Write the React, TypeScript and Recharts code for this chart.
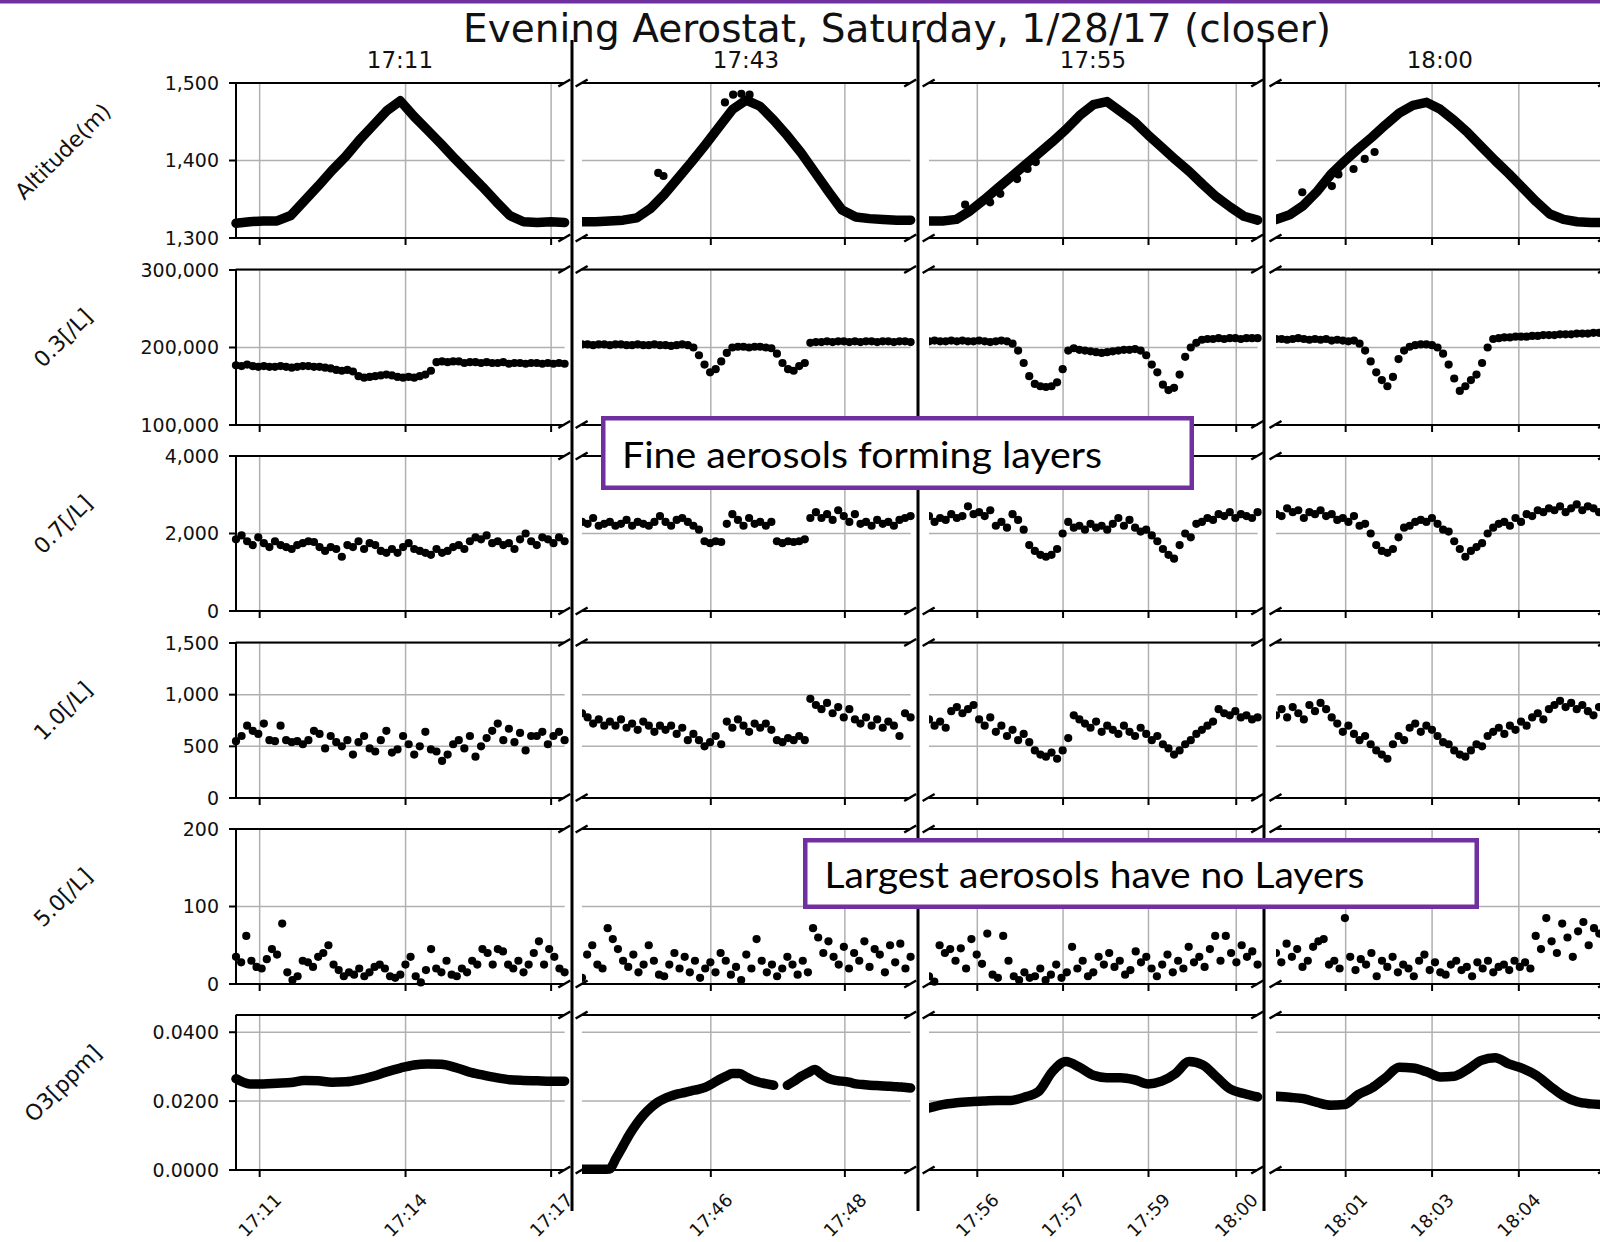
import { ComposedChart, Line, Scatter, XAxis, YAxis, ReferenceLine } from 'recharts'

// ---- layout (px) ----
const COL_X = [235.7, 581.6, 928.6, 1275.5]
const ROW_Y = [83, 269.5, 456, 642.5, 829, 1015]
const PW = 328.6
const PH = 155
const DIVIDER_X = [572, 918, 1264]
const GRID = '#b0b0b0'
const PURPLE = '#7030a0'
const FONT = 'DejaVu Sans'

// ---- axis text ----
const columnTitles = ['17:11', '17:43', '17:55', '18:00']
// tick positions as % of each window's width, with their clock labels
const tickPos = [[7.2, 51.6, 95.9], [39.2, 80], [14.7, 40.8, 66.8, 93.5], [21.2, 47.5, 73.9]]
const tickLabels = [
  ['17:11', '17:14', '17:17'],
  ['17:46', '17:48'],
  ['17:56', '17:57', '17:59', '18:00'],
  ['18:01', '18:03', '18:04'],
]

// ---- altitude (m) ----
const alt1711 = [1319, 1321, 1322, 1322, 1329, 1348, 1367, 1387, 1405, 1426, 1445, 1464, 1477, 1457, 1439, 1421, 1402, 1384, 1366, 1347, 1329, 1321, 1320, 1321, 1320]
const alt1743 = [1321, 1321, 1322, 1323, 1326, 1338, 1356, 1377, 1398, 1420, 1443, 1466, 1478, 1470, 1452, 1432, 1410, 1385, 1360, 1336, 1327, 1325, 1324, 1323, 1323]
const alt1755 = [1322, 1322, 1324, 1335, 1349, 1364, 1379, 1394, 1409, 1424, 1440, 1458, 1472, 1476, 1463, 1450, 1433, 1417, 1401, 1386, 1369, 1353, 1340, 1328, 1323]
const alt1800 = [1324, 1330, 1342, 1360, 1382, 1399, 1415, 1430, 1446, 1461, 1471, 1475, 1466, 1452, 1436, 1418, 1400, 1383, 1365, 1347, 1331, 1324, 1321, 1320, 1320]
// stray GPS fixes off the main track: [% of window, m]
const altStray1743 = [[23.2, 1384], [24.8, 1380], [43.5, 1475], [46, 1485], [48.5, 1486], [51, 1485]]
const altStray1755 = [[11, 1343], [18.6, 1346], [21.7, 1357], [26.8, 1376], [30, 1389], [32.5, 1398]]
const altStray1800 = [[8, 1359], [17, 1367], [19, 1382], [23.6, 1389], [27, 1402], [30, 1411]]

// ---- 0.3 um counts (thousands per L) ----
const p03_1711 = [177, 176, 178, 176, 175, 176, 175, 175, 176, 175, 174, 175, 176, 176, 175, 175, 174, 173, 171, 170, 171, 169, 163, 161, 162, 163, 164, 165, 164, 162, 161, 162, 161, 163, 165, 170, 181, 182, 181, 182, 182, 180, 181, 181, 180, 181, 180, 180, 181, 179, 180, 180, 179, 180, 180, 179, 180, 179, 180, 179]
const p03_1743 = [204, 204, 203, 204, 204, 203, 204, 204, 203, 203, 204, 203, 203, 204, 203, 203, 202, 203, 204, 203, 200, 190, 178, 168, 172, 182, 193, 200, 201, 201, 200, 201, 201, 200, 199, 192, 180, 172, 170, 176, 180, 206, 207, 207, 208, 207, 208, 208, 207, 208, 207, 208, 208, 207, 208, 208, 207, 208, 208, 207]
const p03_1755 = [208, 209, 208, 208, 209, 208, 209, 208, 208, 209, 208, 207, 208, 209, 208, 205, 196, 180, 163, 153, 150, 149, 150, 155, 172, 196, 199, 197, 196, 195, 194, 193, 194, 195, 196, 197, 197, 198, 196, 190, 178, 168, 152, 145, 148, 165, 188, 200, 206, 210, 211, 211, 212, 211, 212, 212, 211, 212, 212, 212]
const p03_1800 = [211, 211, 210, 211, 212, 211, 210, 211, 210, 211, 209, 210, 209, 208, 209, 205, 196, 182, 168, 158, 150, 162, 185, 196, 201, 203, 204, 204, 203, 200, 192, 178, 160, 144, 150, 158, 165, 180, 200, 211, 212, 213, 213, 214, 214, 214, 215, 215, 216, 216, 216, 217, 217, 217, 218, 218, 218, 219, 219, 219]

// ---- 0.7 um counts (per L) ----
const p07_1711 = [1850, 1950, 1800, 1700, 1900, 1750, 1650, 1800, 1700, 1650, 1600, 1700, 1750, 1800, 1780, 1650, 1550, 1650, 1600, 1400, 1700, 1650, 1800, 1600, 1750, 1700, 1550, 1500, 1600, 1500, 1650, 1750, 1600, 1550, 1500, 1450, 1600, 1500, 1550, 1650, 1700, 1600, 1800, 1900, 1850, 1950, 1750, 1800, 1700, 1750, 1600, 1850, 2000, 1800, 1700, 1900, 1850, 1750, 1900, 1800]
const p07_1743 = [2300, 2250, 2400, 2200, 2250, 2300, 2200, 2250, 2350, 2200, 2300, 2250, 2200, 2300, 2450, 2300, 2200, 2350, 2400, 2300, 2200, 2100, 1800, 1750, 1800, 1780, 2250, 2500, 2350, 2200, 2400, 2250, 2300, 2200, 2300, 1800, 1750, 1800, 1780, 1800, 1850, 2400, 2550, 2400, 2500, 2350, 2600, 2450, 2300, 2500, 2250, 2300, 2200, 2350, 2250, 2300, 2200, 2350, 2400, 2450]
const p07_1755 = [2450, 2300, 2400, 2350, 2500, 2400, 2450, 2700, 2500, 2550, 2450, 2600, 2200, 2300, 2150, 2500, 2350, 2100, 1700, 1550, 1450, 1400, 1450, 1600, 2000, 2300, 2150, 2200, 2100, 2250, 2150, 2200, 2100, 2250, 2400, 2200, 2350, 2150, 2050, 2100, 1950, 1800, 1600, 1450, 1350, 1700, 2000, 1900, 2250, 2300, 2400, 2350, 2500, 2450, 2550, 2400, 2500, 2450, 2400, 2550]
const p07_1800 = [2500, 2450, 2650, 2550, 2600, 2400, 2550, 2500, 2600, 2450, 2500, 2350, 2400, 2300, 2450, 2200, 2250, 2000, 1700, 1550, 1500, 1600, 1900, 2150, 2200, 2300, 2350, 2300, 2400, 2250, 2100, 2050, 1800, 1600, 1400, 1550, 1650, 1750, 2000, 2150, 2250, 2300, 2200, 2400, 2300, 2500, 2450, 2600, 2550, 2650, 2600, 2700, 2550, 2650, 2750, 2600, 2700, 2650, 2550, 2700]

// ---- 1.0 um counts (per L) ----
const p10_1711 = [550, 600, 700, 650, 620, 720, 560, 550, 700, 560, 540, 550, 520, 560, 650, 620, 480, 600, 540, 500, 560, 420, 540, 600, 480, 450, 560, 650, 440, 470, 600, 520, 420, 500, 640, 470, 450, 360, 420, 520, 560, 480, 600, 400, 500, 580, 650, 720, 560, 670, 540, 630, 460, 600, 600, 640, 520, 600, 640, 560]
const p10_1743 = [820, 780, 720, 760, 700, 740, 700, 760, 680, 720, 660, 740, 700, 640, 700, 660, 700, 620, 680, 560, 620, 560, 500, 540, 600, 520, 740, 680, 760, 700, 640, 720, 680, 720, 660, 560, 540, 580, 560, 600, 560, 960, 900, 860, 920, 820, 880, 780, 860, 760, 720, 780, 700, 760, 680, 740, 700, 600, 820, 780]
const p10_1755 = [760, 700, 740, 680, 840, 880, 820, 860, 900, 760, 700, 780, 640, 700, 600, 660, 560, 620, 540, 460, 420, 400, 440, 380, 460, 580, 800, 760, 720, 680, 740, 640, 700, 660, 620, 700, 640, 600, 680, 620, 560, 600, 520, 480, 420, 460, 520, 560, 620, 660, 700, 740, 860, 820, 800, 840, 780, 800, 760, 780]
const p10_1800 = [800, 860, 780, 880, 820, 760, 900, 840, 920, 860, 780, 720, 640, 700, 620, 560, 600, 520, 460, 420, 380, 520, 600, 560, 680, 720, 640, 700, 660, 600, 540, 520, 460, 420, 400, 460, 520, 500, 600, 640, 680, 620, 700, 660, 740, 700, 780, 820, 760, 860, 900, 940, 880, 920, 860, 900, 840, 800, 880, 1000]

// ---- 5.0 um counts (per L) ----
const p50_1711 = [35, 28, 62, 30, 22, 20, 32, 45, 38, 78, 15, 5, 10, 30, 28, 22, 35, 40, 50, 25, 18, 10, 15, 12, 20, 10, 15, 22, 25, 20, 10, 8, 12, 25, 35, 10, 2, 18, 45, 20, 15, 30, 12, 10, 20, 15, 30, 25, 45, 40, 25, 45, 42, 25, 20, 30, 15, 25, 40, 55, 25, 45, 35, 20, 15]
const p50_1743 = [8, 38, 50, 25, 20, 72, 58, 45, 30, 22, 38, 15, 25, 50, 30, 12, 10, 25, 40, 20, 35, 15, 30, 8, 20, 28, 15, 40, 30, 12, 22, 5, 38, 20, 58, 30, 15, 25, 10, 20, 35, 25, 12, 30, 15, 72, 60, 40, 55, 35, 25, 48, 20, 40, 30, 55, 22, 45, 38, 15, 50, 28, 52, 20, 35]
const p50_1755 = [10, 3, 50, 40, 45, 30, 46, 20, 58, 38, 26, 65, 12, 8, 62, 30, 10, 5, 15, 8, 10, 20, 5, 12, 25, 8, 15, 48, 20, 30, 10, 15, 35, 25, 40, 22, 30, 12, 18, 42, 28, 35, 20, 10, 25, 38, 15, 30, 20, 48, 28, 35, 22, 45, 62, 30, 62, 40, 28, 50, 35, 42, 25]
const p50_1800 = [40, 28, 52, 35, 45, 22, 30, 48, 55, 58, 25, 30, 20, 85, 35, 18, 32, 25, 40, 10, 30, 22, 35, 15, 25, 20, 10, 30, 38, 18, 28, 15, 12, 25, 30, 18, 22, 10, 28, 20, 30, 15, 22, 25, 18, 30, 22, 28, 20, 62, 45, 85, 55, 40, 78, 60, 35, 68, 80, 50, 72, 65, 75]

// ---- ozone (ppm) ----
const o3_1711 = [0.0265, 0.0250, 0.0250, 0.0252, 0.0254, 0.0260, 0.0259, 0.0255, 0.0256, 0.0262, 0.0272, 0.0285, 0.0296, 0.0305, 0.0308, 0.0307, 0.0298, 0.0285, 0.0276, 0.0268, 0.0262, 0.0260, 0.0259, 0.0258, 0.0258]
// sensor warm-up at the start, one dropped sample mid-window
const o3_1743 = [0.0002, 0.0002, 0.0002, 0.0002, 0.0003, 0.0035, 0.0070, 0.0105, 0.0135, 0.0160, 0.0180, 0.0196, 0.0207, 0.0215, 0.0221, 0.0225, 0.0230, 0.0234, 0.0240, 0.0250, 0.0262, 0.0272, 0.0280, 0.0280, 0.0270, 0.0260, 0.0254, 0.0250, 0.0246, null, 0.0246, 0.0258, 0.0272, 0.0282, 0.0292, 0.0278, 0.0266, 0.0260, 0.0258, 0.0255, 0.0250, 0.0248, 0.0246, 0.0245, 0.0244, 0.0243, 0.0242, 0.0240, 0.0238]
const o3_1755 = [0.0180, 0.0190, 0.0195, 0.0198, 0.0200, 0.0202, 0.0202, 0.0212, 0.0228, 0.0285, 0.0315, 0.0298, 0.0275, 0.0268, 0.0268, 0.0262, 0.0250, 0.0258, 0.0280, 0.0315, 0.0305, 0.0270, 0.0235, 0.0222, 0.0212]
const o3_1800 = [0.0214, 0.0211, 0.0207, 0.0196, 0.0188, 0.0190, 0.0219, 0.0238, 0.0268, 0.0298, 0.0296, 0.0285, 0.0270, 0.0272, 0.0292, 0.0318, 0.0326, 0.0308, 0.0295, 0.0275, 0.0244, 0.0215, 0.0198, 0.0192, 0.0190]

const fmtInt = (v: number) => v.toLocaleString('en-US')

const ROWS = [
  { label: 'Altitude(m)', domain: [1300, 1500], ticks: [1300, 1400, 1500], fmt: fmtInt, kind: 'line', curve: 'linear',
    series: [alt1711, alt1743, alt1755, alt1800], stray: [[], altStray1743, altStray1755, altStray1800] },
  { label: '0.3[/L]', domain: [100, 300], ticks: [100, 200, 300], fmt: (v: number) => fmtInt(v * 1000), kind: 'dots',
    series: [p03_1711, p03_1743, p03_1755, p03_1800] },
  { label: '0.7[/L]', domain: [0, 4000], ticks: [0, 2000, 4000], fmt: fmtInt, kind: 'dots',
    series: [p07_1711, p07_1743, p07_1755, p07_1800] },
  { label: '1.0[/L]', domain: [0, 1500], ticks: [0, 500, 1000, 1500], fmt: fmtInt, kind: 'dots',
    series: [p10_1711, p10_1743, p10_1755, p10_1800] },
  { label: '5.0[/L]', domain: [0, 200], ticks: [0, 100, 200], fmt: fmtInt, kind: 'dots',
    series: [p50_1711, p50_1743, p50_1755, p50_1800] },
  { label: 'O3[ppm]', domain: [0, 0.045], ticks: [0, 0.02, 0.04], fmt: (v: number) => v.toFixed(4), kind: 'line', curve: 'monotone',
    series: [o3_1711, o3_1743, o3_1755, o3_1800] },
]

const Dot = (p: any) => <circle cx={p.cx} cy={p.cy} r={4.1} fill="#000" />

function Panel({ row, col }: { row: number; col: number }) {
  const spec = ROWS[row]
  const first = col === 0
  const bottom = row === ROWS.length - 1
  const yw = first ? 110 : 0
  const xh = bottom ? 80 : 16
  const padT = 14
  const padR = bottom ? 30 : 8 // room for the rotated time labels
  const data = spec.series[col].map((v, i, a) => ({ x: (i * 100) / (a.length - 1), y: v }))
  const stray = ((spec.stray && spec.stray[col]) || []).map(([x, y]) => ({ x, y }))
  const labels = tickLabels[col]

  const tick = bottom
    ? (p: any) => {
        const cx = p.x
        const cy = p.y + 38
        return (
          <text x={cx} y={cy} transform={`rotate(-45 ${cx} ${cy})`} textAnchor="middle"
            dominantBaseline="central" fontSize={18} fontFamily={FONT} fill="#111">
            {labels[p.index]}
          </text>
        )
      }
    : () => <g />

  return (
    <div style={{ position: 'absolute', left: COL_X[col] - yw, top: ROW_Y[row] - padT }}>
      <ComposedChart width={PW + yw + padR} height={PH + padT + xh} data={data}
        margin={{ top: padT, right: padR, bottom: 0, left: 0 }}>
        {spec.ticks.map(t => <ReferenceLine key={`h${t}`} y={t} stroke={GRID} strokeWidth={1.5} />)}
        {tickPos[col].map(t => <ReferenceLine key={`v${t}`} x={t} stroke={GRID} strokeWidth={1.5} />)}
        <XAxis type="number" dataKey="x" domain={[0, 100]} ticks={tickPos[col]} interval={0}
          height={xh} tickSize={7} tickMargin={0}
          axisLine={{ stroke: '#000', strokeWidth: 2 }} tickLine={{ stroke: '#000', strokeWidth: 2 }}
          tick={tick} />
        <YAxis type="number" dataKey="y" domain={spec.domain} ticks={spec.ticks} interval={0}
          hide={!first} width={yw} tickSize={7} tickMargin={10} tickFormatter={spec.fmt}
          axisLine={{ stroke: '#000', strokeWidth: 2 }} tickLine={{ stroke: '#000', strokeWidth: 2 }}
          tick={{ fontSize: 19, fill: '#111', fontFamily: FONT }} />
        {spec.kind === 'line' ? (
          <Line type={spec.curve as any} dataKey="y" stroke="#000" strokeWidth={9.5} dot={false}
            strokeLinecap="round" strokeLinejoin="round" connectNulls={false} isAnimationActive={false} />
        ) : (
          <Scatter data={data} dataKey="y" shape={Dot} isAnimationActive={false} />
        )}
        {stray.length > 0 && <Scatter data={stray} dataKey="y" shape={Dot} isAnimationActive={false} />}
      </ComposedChart>
    </div>
  )
}

function Overlay() {
  const marks: JSX.Element[] = []
  ROW_Y.forEach((top, r) => {
    COL_X.forEach((left, c) => {
      const right = left + PW
      marks.push(<line key={`t${r}${c}`} x1={left} y1={top} x2={right} y2={top} stroke="#000" strokeWidth={2} />)
      const edges = c === 0 ? [right] : [left, right]
      edges.forEach((ex, k) => {
        ;[top, top + PH].forEach((sy, j) => {
          marks.push(<line key={`b${r}${c}${k}${j}`} x1={ex - 6} y1={sy + 3.5} x2={ex + 6} y2={sy - 3.5}
            stroke="#000" strokeWidth={2.5} />)
        })
      })
    })
  })

  return (
    <svg width={1600} height={1242} style={{ position: 'absolute', left: 0, top: 0, pointerEvents: 'none' }}>
      <rect x={0} y={0} width={1600} height={3.5} fill={PURPLE} />
      <text x={897} y={42} textAnchor="middle" fontSize={39} fontFamily={FONT} fill="#111">
        Evening Aerostat, Saturday, 1/28/17 (closer)
      </text>
      {columnTitles.map((t, c) => (
        <text key={t} x={COL_X[c] + PW / 2} y={68} textAnchor="middle" fontSize={23} fontFamily={FONT} fill="#111">{t}</text>
      ))}
      {ROWS.map((r, i) => {
        const cx = 63
        const cy = ROW_Y[i] + PH / 2 - 9
        return (
          <text key={r.label} x={cx} y={cy} transform={`rotate(-45 ${cx} ${cy})`} textAnchor="middle"
            dominantBaseline="central" fontSize={22} fontFamily={FONT} fill="#111">{r.label}</text>
        )
      })}
      {marks}
      {DIVIDER_X.map(x => <line key={x} x1={x} y1={40} x2={x} y2={1211} stroke="#000" strokeWidth={3} />)}

      <rect x={603.25} y={418.25} width={588.5} height={69.5} fill="#fff" stroke={PURPLE} strokeWidth={4.5} />
      <text x={622} y={467.5} fontSize={36} fontFamily="Lato" fill="#000" textLength={480} lengthAdjust="spacingAndGlyphs">
        Fine aerosols forming layers
      </text>
      <rect x={805.25} y={840.25} width={671.5} height={66.5} fill="#fff" stroke={PURPLE} strokeWidth={4.5} />
      <text x={824.5} y={888} fontSize={36} fontFamily="Lato" fill="#000" textLength={540} lengthAdjust="spacingAndGlyphs">
        Largest aerosols have no Layers
      </text>
    </svg>
  )
}

export default function App() {
  return (
    <div style={{ position: 'absolute', left: 0, top: 0, width: 1600, height: 1242, background: '#fff', overflow: 'hidden' }}>
      {ROWS.map((_, r) => [0, 1, 2, 3].map(c => <Panel key={`${r}-${c}`} row={r} col={c} />))}
      <Overlay />
    </div>
  )
}
